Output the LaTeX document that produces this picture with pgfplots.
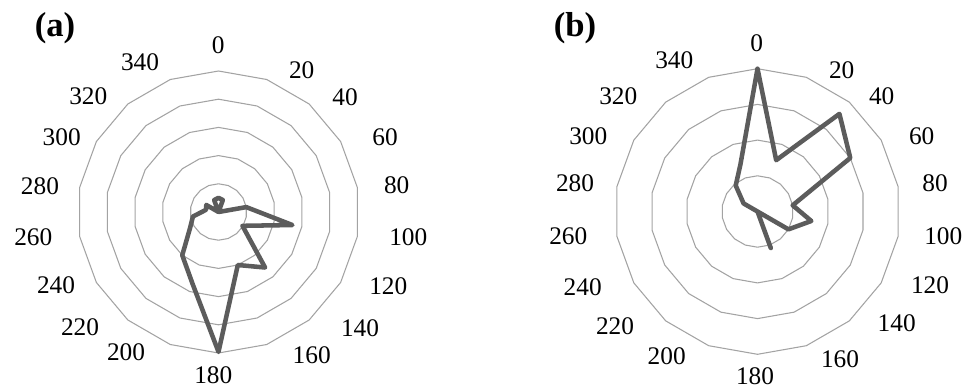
\documentclass[border=0pt]{standalone}
\usepackage{fontspec}
\setmainfont{Liberation Serif}
\usepackage{pgfplots}
\usepackage{pgfplotstable}
\pgfplotsset{compat=1.18}

\definecolor{dataline}{HTML}{5C5C5C}
\definecolor{ringcol}{HTML}{A3A3A3}

% polar angle = 90 - compass angle
\pgfplotstableread{
ang r
90 0.50
70 0.45
50 0.00
30 0.00
10 1.00
-10 2.66
-30 0.98
-50 2.57
-70 2.00
-90 4.96
-110 2.70
-130 2.00
-150 1.17
-170 0.92
-190 0.45
-210 0.50
-230 0.00
-250 0.45
-270 0.50
}\dataA

\pgfplotstableread{
ang r
90 4.00
70 1.53
50 3.57
30 3.00
10 1.00
-10 1.53
-30 1.00
-50 0.00
-70 1.09
-90 0.00
-110 0.00
-130 0.00
-150 0.00
-170 0.00
-190 0.00
-210 0.45
-230 0.95
-250 1.40
-270 4.00
}\dataB

\newcommand\ring[1]{\addplot[ringcol, line width=0.8pt, line join=round, line cap=round, data cs=polar] coordinates {(90,#1)(70,#1)(50,#1)(30,#1)(10,#1)(-10,#1)(-30,#1)(-50,#1)(-70,#1)(-90,#1)(-110,#1)(-130,#1)(-150,#1)(-170,#1)(-190,#1)(-210,#1)(-230,#1)(-250,#1)(-270,#1)};}

\begin{document}
\begin{tikzpicture}
\path[use as bounding box] (0,0) rectangle (726.75pt,292.5pt);

\begin{axis}[at={(163.875pt,133.5pt)}, anchor=center, x=21.15pt, y=21.15pt,
  xmin=-7, xmax=7, ymin=-7, ymax=7, hide axis, clip=false]
\ring{1}\ring{2}\ring{3}\ring{4}\ring{5}
\addplot[dataline, line width=3.4pt, line join=round, line cap=round, data cs=polar] table[x=ang, y=r] {\dataA};
\end{axis}

\begin{axis}[at={(568.125pt,133.875pt)}, anchor=center, x=26.775pt, y=26.775pt,
  xmin=-5.5, xmax=5.5, ymin=-5.5, ymax=5.5, hide axis, clip=false]
\ring{1}\ring{2}\ring{3}\ring{4}
\addplot[dataline, line width=3.4pt, line join=round, line cap=round, data cs=polar] table[x=ang, y=r] {\dataB};
\end{axis}

\begin{scope}[shift={(0pt,292.5pt)}, x=0.75pt, y=-0.75pt]
\foreach \t/\px/\py in {0/218.3/45, 20/301.7/70, 40/345/96.7, 60/385/136.7, 80/396.7/185, 100/408.3/237.3, 120/388.3/286, 140/360/328.3, 160/311.7/355, 180/213.3/375, 200/126/351.7, 220/80/326.7, 240/56/285, 260/33.3/237.3, 280/40/186, 300/61.7/137.3, 320/88.3/96, 340/140/61.7}
  {\node[inner sep=0pt, font=\fontsize{19}{22}\selectfont] at (\px,\py) {\t};}
\foreach \t/\px/\py in {0/756.7/43.3, 20/841.7/70, 40/881.7/96, 60/921.7/136, 80/935/183.3, 100/943.3/236, 120/930/285, 140/896.7/323.3, 160/840/359.3, 180/755/376, 200/666.7/356, 220/615/326, 240/582.7/287.3, 260/568.3/236, 280/575/183.3, 300/588.3/136, 320/618.3/96, 340/674.3/60}
  {\node[inner sep=0pt, font=\fontsize{19}{22}\selectfont] at (\px,\py) {\t};}
\node[inner sep=0pt, font=\fontsize{26}{29}\selectfont\bfseries] at (55,28) {(a)};
\node[inner sep=0pt, font=\fontsize{26}{29}\selectfont\bfseries] at (575,28) {(b)};
\end{scope}
\end{tikzpicture}
\end{document}
